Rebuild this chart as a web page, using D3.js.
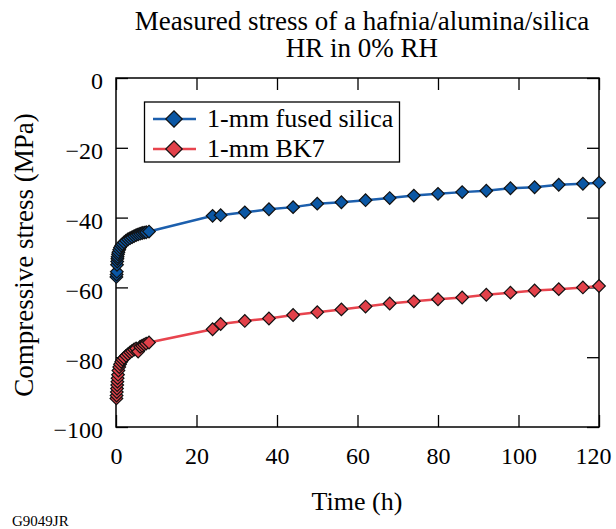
<!DOCTYPE html>
<head>
<meta charset="utf-8" />
</head>
<style>
body { margin: 0; background: #fff; }
svg text { font-family: "Liberation Serif", "Times New Roman", serif; }
</style>
<body>
<script src="https://cdn.jsdelivr.net/npm/d3@7"></script>
<script>
// ---- data ----
var silicaTime = [0.1, 0.15, 0.2, 0.25, 0.3, 0.35, 0.4, 0.5, 0.6, 0.8, 1.0, 1.3, 1.6, 2.0, 2.5, 3.0, 3.5, 4.0, 4.5, 5.0, 5.5, 6.0, 6.5, 7.0, 7.5, 8.2,
  24, 26, 32, 38, 44, 50, 56, 62, 68, 74, 80, 86, 92, 98, 104, 110, 116, 120];
var silicaStress = [-57, -56.3, -55.5, -53.5, -52.6, -51.8, -51.2, -50.5, -49.9, -49.2, -48.6, -48.0, -47.6, -47.1, -46.6, -46.2, -45.9, -45.6, -45.3, -45.0, -44.8, -44.6, -44.4, -44.3, -44.2, -44.0,
  -39.5, -39.3, -38.5, -37.6, -37.0, -36.0, -35.6, -35.0, -34.4, -33.7, -33.2, -32.7, -32.3, -31.6, -31.3, -30.6, -30.3, -30.0];
var bk7Time = [0.1, 0.15, 0.2, 0.25, 0.3, 0.35, 0.4, 0.5, 0.6, 0.8, 1.0, 1.3, 1.6, 2.0, 2.5, 3.0, 3.5, 4.0, 4.5, 5.0, 5.5, 6.0, 6.5, 7.0, 7.5, 8.2,
  24, 26, 32, 38, 44, 50, 56, 62, 68, 74, 80, 86, 92, 98, 104, 110, 116, 120];
var bk7Stress = [-91.8, -91, -90, -89, -88, -87, -86, -85, -83.8, -82.8, -82, -81.3, -80.7, -80.2, -79.6, -79.1, -78.6, -78.2, -77.8, -77.5, -78.4, -77.0, -76.7, -76.4, -76.1, -75.8,
  -72.0, -70.5, -69.6, -68.9, -67.9, -67.1, -66.3, -65.5, -64.6, -64.0, -63.4, -62.9, -62.1, -61.5, -60.9, -60.5, -60.0, -59.6];
var xTicks = [0, 20, 40, 60, 80, 100, 120];
var yTicks = [0, -20, -40, -60, -80, -100];
var seriesNames = ["1-mm fused silica", "1-mm BK7"];
var seriesColors = [{line: "#1c5fad", fill: "#0b57a4"}, {line: "#e8444e", fill: "#e2414a"}];

var W = 616, H = 529;
var margin = {left: 116, right: 17, top: 78, bottom: 102};
var serif = "Liberation Serif";
var svg = d3.select("body").append("svg").attr("width", W).attr("height", H)
  .attr("font-family", serif);

var x = d3.scaleLinear().domain([0, 120]).range([margin.left, W - margin.right]);
var y = d3.scaleLinear().domain([-100, 0]).range([H - margin.bottom, margin.top]);

// title
svg.append("text").attr("x", 362).attr("y", 30).attr("text-anchor", "middle")
  .attr("font-family", serif).style("font-size", "27px").text("Measured stress of a hafnia/alumina/silica");
svg.append("text").attr("x", 362).attr("y", 57).attr("text-anchor", "middle")
  .attr("font-family", serif).style("font-size", "27px").text("HR in 0% RH");

// axes (inward ticks all round)
var tl = 12;
svg.append("g").attr("class", "xaxis").attr("transform", "translate(0," + y(-100) + ")")
  .call(d3.axisBottom(x).tickValues(xTicks).tickSizeInner(-tl).tickSizeOuter(0).tickPadding(20))
  .call(function(g) { g.select(".domain").remove(); });
svg.append("g").attr("transform", "translate(0," + y(0) + ")")
  .call(d3.axisTop(x).tickValues(xTicks).tickSizeInner(-tl).tickSizeOuter(0).tickFormat(""))
  .call(function(g) { g.select(".domain").remove(); });
svg.append("g").attr("class", "yaxis").attr("transform", "translate(" + x(0) + ",0)")
  .call(d3.axisLeft(y).tickValues(yTicks).tickSizeInner(-tl).tickSizeOuter(0).tickPadding(13)
    .tickFormat(function(d) { return d < 0 ? "\u2212" + Math.abs(d) : d; }))
  .call(function(g) { g.select(".domain").remove(); });
svg.append("g").attr("transform", "translate(" + x(120) + ",0)")
  .call(d3.axisRight(y).tickValues(yTicks).tickSizeInner(-tl).tickSizeOuter(0).tickFormat(""))
  .call(function(g) { g.select(".domain").remove(); });
svg.selectAll("g").attr("font-family", serif);
svg.selectAll(".tick line").attr("stroke", "#000").attr("stroke-width", 1.3);
svg.selectAll(".tick text").style("font-size", "24px").attr("font-family", serif).attr("fill", "#000");
svg.selectAll(".yaxis .tick text").attr("dy", "0.45em");
// last x label pulled in so it stays on the page
svg.selectAll(".xaxis .tick text").filter(function(d) { return d === 120; })
  .attr("text-anchor", "end").attr("x", 12);

svg.append("rect").attr("x", x(0)).attr("y", y(0))
  .attr("width", x(120) - x(0)).attr("height", y(-100) - y(0))
  .attr("fill", "none").attr("stroke", "#000").attr("stroke-width", 1.5);

// axis titles
svg.append("text").attr("x", 357).attr("y", 510).attr("text-anchor", "middle")
  .attr("font-family", serif).style("font-size", "26px").text("Time (h)");
svg.append("text").attr("transform", "translate(33,255) rotate(-90)").attr("text-anchor", "middle")
  .attr("font-family", serif).style("font-size", "27px").text("Compressive stress (MPa)");
svg.append("text").attr("x", 12).attr("y", 526).attr("font-family", serif)
  .style("font-size", "15px").text("G9049JR");

// series
var series = [
  d3.zip(silicaTime, silicaStress),
  d3.zip(bk7Time, bk7Stress)
];
var line = d3.line().x(function(d) { return x(d[0]); }).y(function(d) { return y(d[1]); });
var diamond = d3.symbol().type(d3.symbolSquare).size(80);
var bigDiamond = d3.symbol().type(d3.symbolSquare).size(135);

series.forEach(function(data, i) {
  svg.append("path").datum(data).attr("d", line)
    .attr("fill", "none").attr("stroke", seriesColors[i].line).attr("stroke-width", 2.5);
});
series.forEach(function(data, i) {
  svg.append("g").selectAll("path").data(data).enter().append("path")
    .attr("d", diamond)
    .attr("transform", function(d) { return "translate(" + x(d[0]) + "," + y(d[1]) + ") rotate(45)"; })
    .attr("fill", seriesColors[i].fill).attr("stroke", "#111").attr("stroke-width", 1.2);
});

// legend
var lg = svg.append("g");
lg.append("rect").attr("x", 144.5).attr("y", 102).attr("width", 255).attr("height", 60)
  .attr("fill", "#fff").attr("stroke", "#000").attr("stroke-width", 1.3);
seriesNames.forEach(function(name, i) {
  var cy = 119 + i * 30;
  lg.append("line").attr("x1", 153).attr("x2", 196).attr("y1", cy).attr("y2", cy)
    .attr("stroke", seriesColors[i].line).attr("stroke-width", 2.5);
  lg.append("path").attr("d", bigDiamond).attr("transform", "translate(174," + cy + ") rotate(45)")
    .attr("fill", seriesColors[i].fill).attr("stroke", "#111").attr("stroke-width", 1.2);
  lg.append("text").attr("x", 207).attr("y", cy + 8).attr("font-family", serif)
    .style("font-size", "26px").text(name);
});
</script>
</body>
